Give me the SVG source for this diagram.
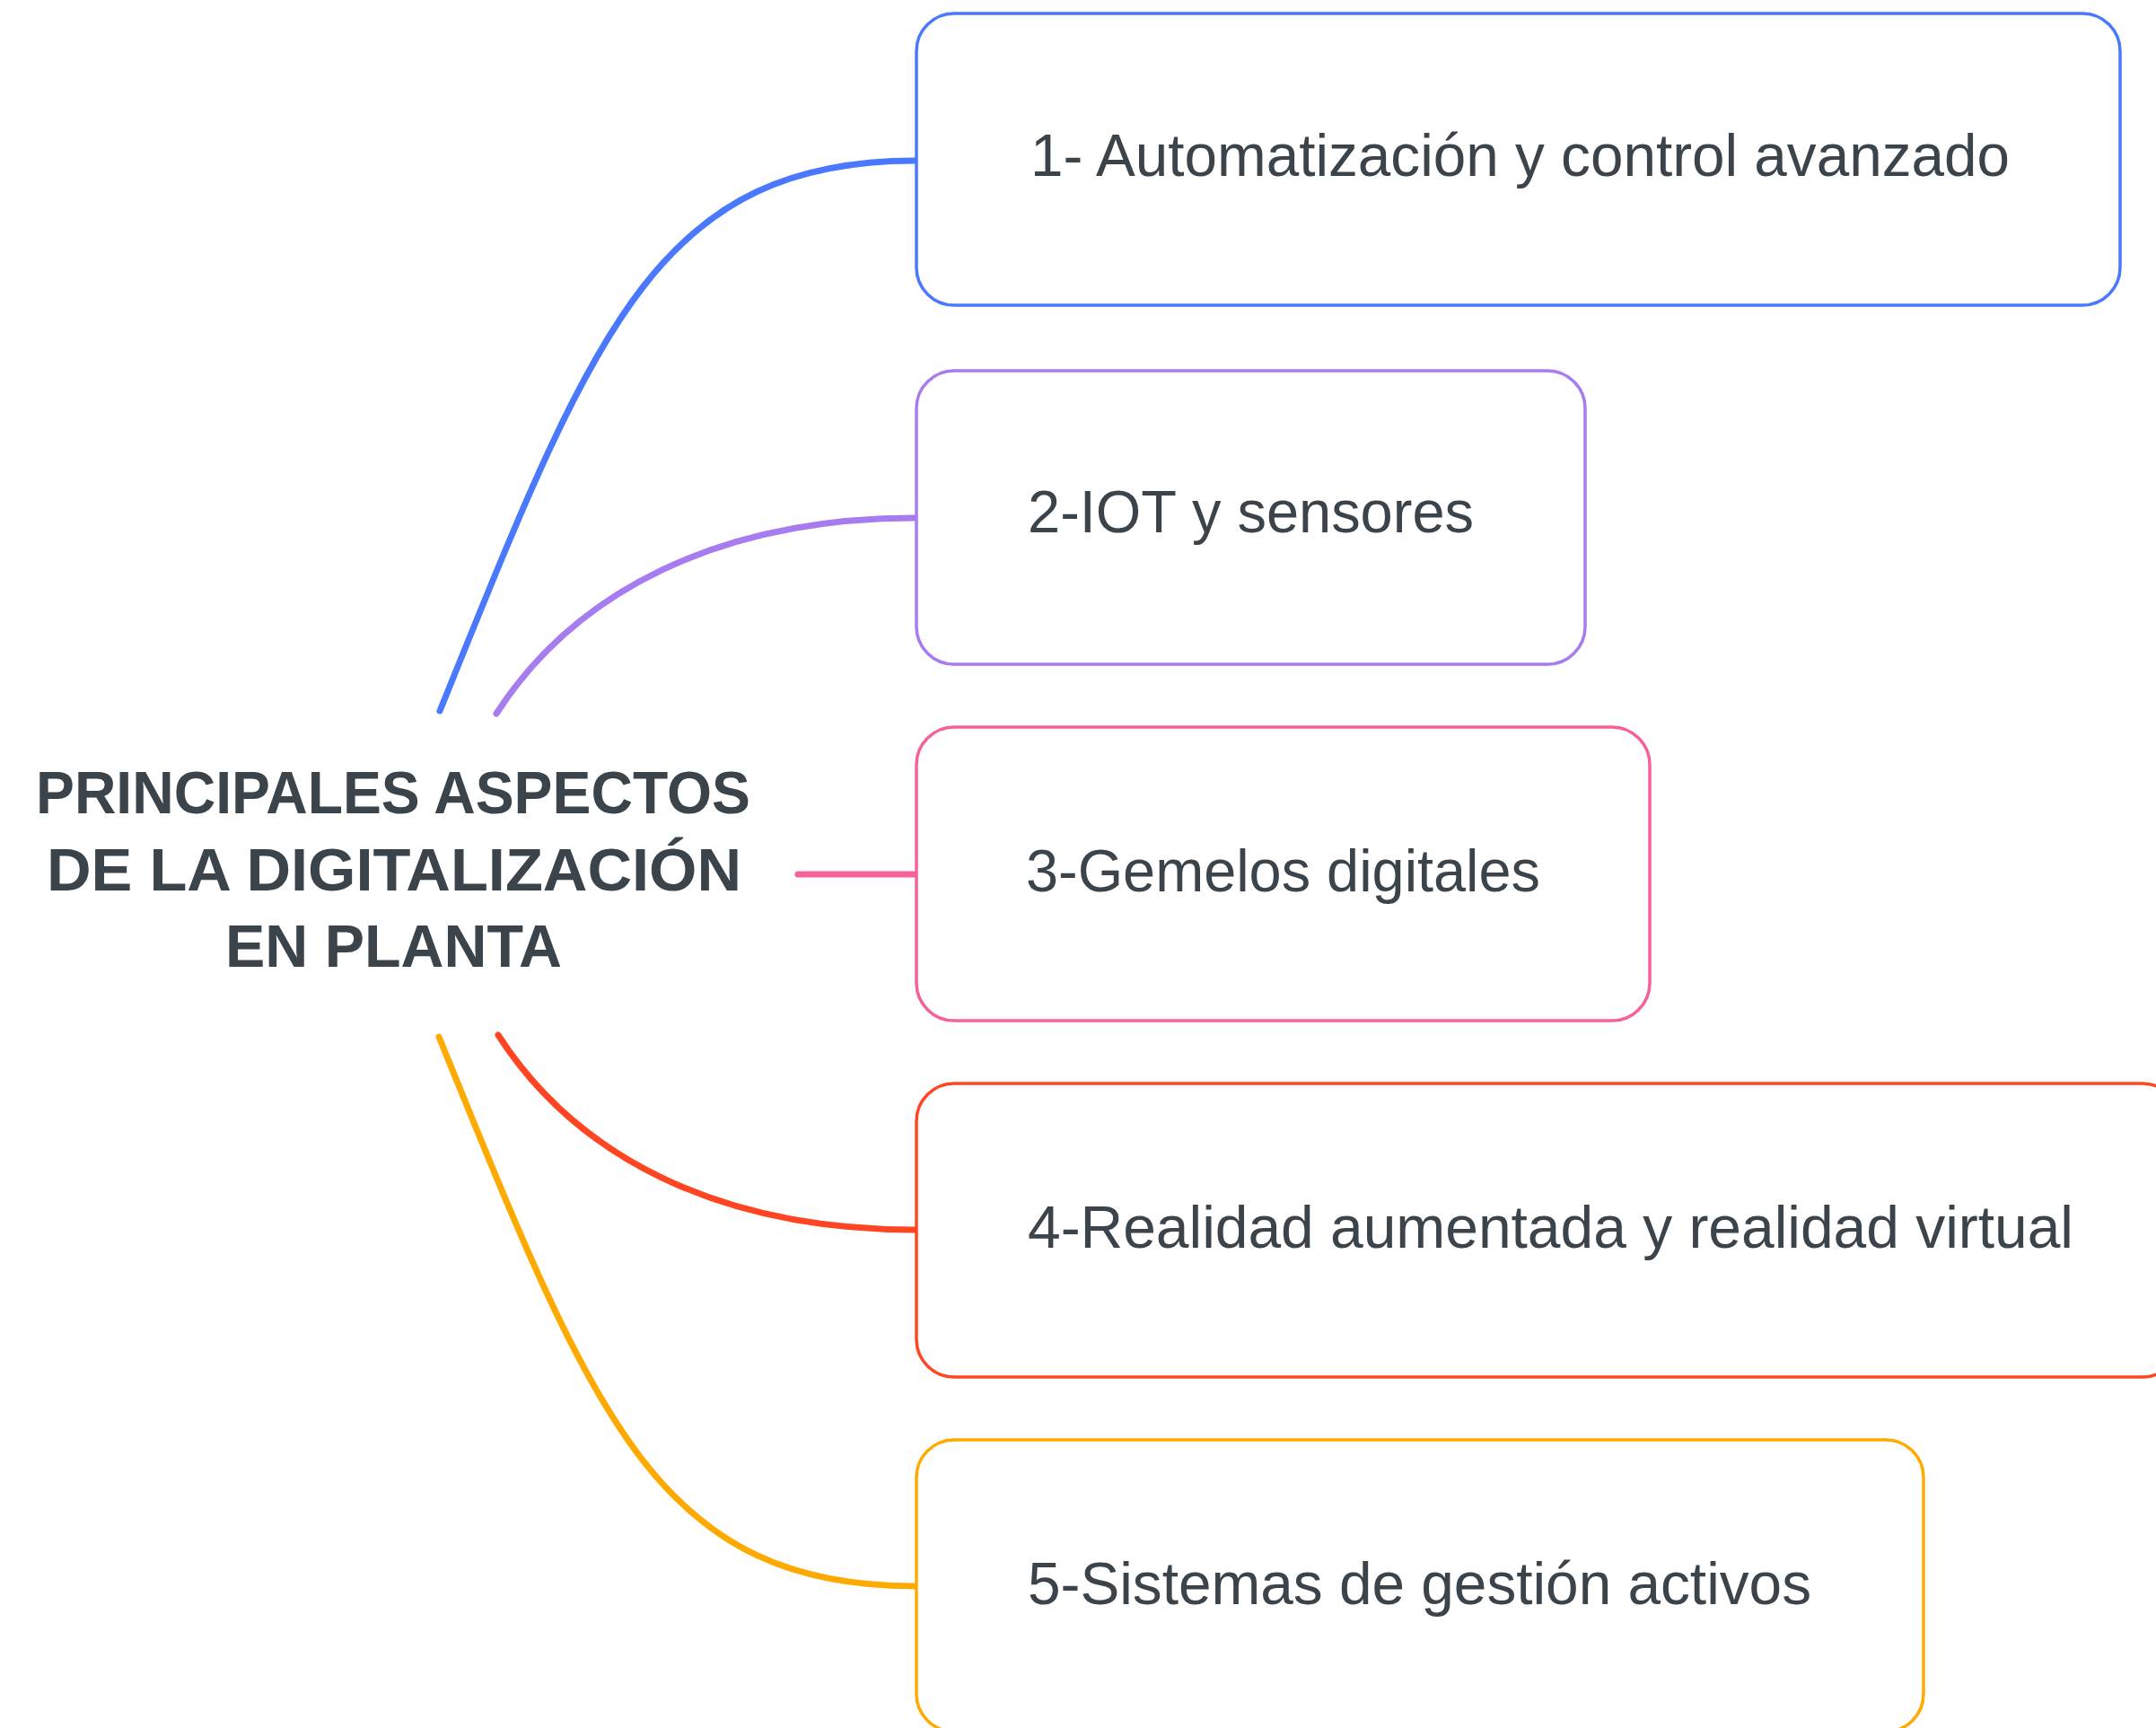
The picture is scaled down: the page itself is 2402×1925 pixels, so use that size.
<svg xmlns="http://www.w3.org/2000/svg" width="2402" height="1925" viewBox="0 0 2402 1925">
  <style>
    .box { fill: #ffffff; stroke-width: 3.5; }
    .lbl { font-family: "Liberation Sans", Arial, sans-serif; font-size: 66px; fill: #3b434b; }
    .title { font-family: "Liberation Sans", Arial, sans-serif; font-size: 66px; font-weight: bold; fill: #3b434b; }
    .conn { fill: none; stroke-width: 7; stroke-linecap: round; }
  </style>
  <rect width="2402" height="1925" fill="#ffffff"/>

  <g id="connectors">
    <path class="conn" stroke="#4a78ff" d="M490,792 C660,372 730,179 1020,179"/>
    <path class="conn" stroke="#a67cf0" d="M553,795 C640,660 800,577 1020,577"/>
    <path class="conn" stroke="#f7619a" d="M889,974 L1020,974"/>
    <path class="conn" stroke="#ff4522" d="M555,1153 C642,1288 800,1370 1020,1370"/>
    <path class="conn" stroke="#ffaa00" d="M489,1155 C660,1575 730,1767 1020,1767"/>
  </g>

  <g id="root">
    <text class="title" x="40" y="906" textLength="796" lengthAdjust="spacingAndGlyphs">PRINCIPALES ASPECTOS</text>
    <text class="title" x="52" y="992" textLength="774" lengthAdjust="spacingAndGlyphs">DE LA DIGITALIZACIÓN</text>
    <text class="title" x="251" y="1077" textLength="375" lengthAdjust="spacingAndGlyphs">EN PLANTA</text>
  </g>

  <g id="node1">
    <rect class="box" stroke="#4a78ff" x="1021" y="15" width="1341" height="325" rx="42" ry="42"/>
    <text class="lbl" x="1148" y="196" textLength="1091" lengthAdjust="spacingAndGlyphs">1- Automatización y control avanzado</text>
  </g>
  <g id="node2">
    <rect class="box" stroke="#a67cf0" x="1021" y="413" width="745" height="327" rx="42" ry="42"/>
    <text class="lbl" x="1145" y="593" textLength="497" lengthAdjust="spacingAndGlyphs">2-IOT y sensores</text>
  </g>
  <g id="node3">
    <rect class="box" stroke="#f7619a" x="1021" y="810" width="817" height="327" rx="42" ry="42"/>
    <text class="lbl" x="1143" y="993" textLength="573" lengthAdjust="spacingAndGlyphs">3-Gemelos digitales</text>
  </g>
  <g id="node4">
    <rect class="box" stroke="#ff4522" x="1021" y="1207" width="1408" height="327" rx="42" ry="42"/>
    <text class="lbl" x="1145" y="1390" textLength="1165" lengthAdjust="spacingAndGlyphs">4-Realidad aumentada y realidad virtual</text>
  </g>
  <g id="node5">
    <rect class="box" stroke="#ffaa00" x="1021" y="1604" width="1122" height="325" rx="42" ry="42"/>
    <text class="lbl" x="1145" y="1787" textLength="873" lengthAdjust="spacingAndGlyphs">5-Sistemas de gestión activos</text>
  </g>
</svg>
